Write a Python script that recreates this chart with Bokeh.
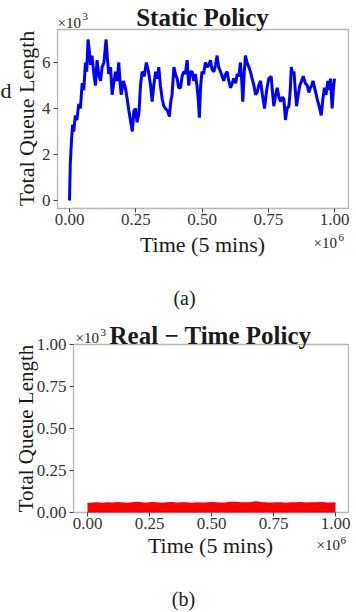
import math
from bokeh.plotting import figure
from bokeh.models import Range1d, FixedTicker, Label, LinearAxis, BoxAnnotation
from bokeh.embed import file_html
from bokeh.resources import INLINE

# ---------------- data ----------------
# (a) Static policy: time step -> total queue length
time_a = [0, 3000, 8000, 12000, 16000, 22000, 28000, 35000, 41000, 48000, 54000, 60000,
          65000, 70000, 75000, 79000, 85000, 92000, 98000, 104000, 110000, 117000, 123000,
          130000, 138000, 143000, 148000, 155000, 161000, 168000, 174000, 180000, 186000,
          191000, 195000, 203000, 211000, 218000, 224000, 230000, 237000, 243000, 249000,
          255000, 262000, 268000, 274000, 282000, 290000, 298000, 306000, 312000, 318000,
          325000, 331000, 337000, 343000, 350000, 356000, 362000, 370000, 377000, 382000,
          387000, 394000, 400000, 406000, 412000, 419000, 425000, 431000, 437000, 444000,
          450000, 456000, 463000, 469000, 475000, 481000, 486000, 490000, 495000, 500000,
          506000, 513000, 520000, 526000, 532000, 538000, 545000, 551000, 557000, 563000,
          570000, 576000, 582000, 589000, 595000, 601000, 608000, 614000, 620000, 627000,
          633000, 639000, 645000, 650000, 654000, 659000, 664000, 670000, 677000, 683000,
          689000, 696000, 702000, 708000, 714000, 721000, 728000, 736000, 744000, 752000,
          761000, 766000, 771000, 778000, 784000, 790000, 796000, 803000, 809000, 815000,
          821000, 828000, 833000, 837000, 842000, 847000, 852000, 857000, 863000, 869000,
          876000, 882000, 890000, 897000, 903000, 909000, 914000, 919000, 927000, 935000,
          942000, 950000, 956000, 962000, 968000, 975000, 980000, 985000, 991000, 996000,
          1000000]
queue_a = [0, 1600, 2700, 3300, 3000, 3700, 3500, 4200, 4000, 5100, 4800, 6000,
           5600, 7000, 6500, 5900, 6300, 5500, 5000, 6100, 5500, 5200, 5800,
           6000, 7000, 6200, 5500, 5800, 4600, 5200, 5600, 5200, 6000,
           5100, 4600, 5200, 4900, 4400, 3900, 3500, 3000, 3900, 4000,
           3400, 3800, 5000, 5600, 5400, 6000, 5600, 5000, 4300, 5000,
           5600, 5300, 5800, 5000, 4400, 4100, 4000, 3900, 3650, 4300,
           4600, 5800, 5500, 5300, 4900, 4900, 5400, 5600, 5500, 6100,
           5000, 5600, 5600, 5200, 5500, 5000, 4400, 3600, 5000, 5600,
           5500, 6000, 5800, 5900, 6100, 5700, 5600, 5900, 6300, 5800,
           5600, 5400, 5200, 5500, 5600, 5200, 4900, 5100, 5300, 5100,
           5500, 5400, 6000, 5200, 4300, 5500, 6300, 6000, 5800, 5600,
           5300, 5000, 4600, 4700, 5000, 5200, 4600, 4000, 4800, 5300,
           5400, 4700, 4100, 4600, 4900, 4500, 4300, 4500, 4400, 3500,
           4000, 4100, 4800, 5800, 5500, 5600, 4800, 4100, 4600, 5000,
           5200, 5400, 5100, 5000, 4700, 4900, 5000, 5200, 4800, 4400,
           4100, 3700, 4400, 4900, 4600, 5200, 4800, 5300, 4000, 4900,
           5300]

# (b) Real-time policy: time step -> total queue length
time_b = [i * 20000 for i in range(51)]
queue_b = [52, 55, 56, 54, 57, 55, 58, 56, 54, 57, 60, 56, 55, 58, 57, 54, 56,
           58, 55, 57, 56, 54, 57, 55, 56, 58, 57, 55, 56, 59, 60, 57, 56, 58,
           62, 58, 56, 55, 57, 56, 54, 57, 56, 58, 55, 56, 57, 58, 56, 55, 57]

x_ticks = [0, 250000, 500000, 750000, 1000000]
x_tick_labels = ["0.00", "0.25", "0.50", "0.75", "1.00"]
ya_ticks = [0, 2000, 4000, 6000]
ya_tick_labels = ["0", "2", "4", "6"]
yb_ticks = [0, 250, 500, 750, 1000]
yb_tick_labels = ["0.00", "0.25", "0.50", "0.75", "1.00"]

SERIF = "Liberation Serif"
TXT = "#1a1a1a"
TICK = "#333333"

# ---------------- layout helpers (page pixel -> data value) ----------------
def lin(p0, v0, p1, v1):
    def f(q):
        return v0 + (q - p0) * (v1 - v0) / (p1 - p0)
    return f

LEFT, TOP, RIGHT, BOTTOM = 0, 0, 356, 612      # canvas edges in page pixels
fx_a = lin(69, 0, 334, 1000000)
fy_a = lin(200, 0, 154, 2000)
fx_b = lin(87, 0, 335, 1000000)
fy_b = lin(512, 0, 344, 1000)

p = figure(width=RIGHT - LEFT, height=BOTTOM - TOP,
           x_range=Range1d(fx_a(LEFT), fx_a(RIGHT)),
           y_range=Range1d(fy_a(BOTTOM), fy_a(TOP)),
           x_axis_location=None, y_axis_location=None,
           output_backend="svg", toolbar_location=None, title=None,
           min_border=0, min_border_left=0, min_border_right=0,
           min_border_top=0, min_border_bottom=0)
p.extra_x_ranges = {"bx": Range1d(fx_b(LEFT), fx_b(RIGHT)), "px": Range1d(LEFT, RIGHT)}
p.extra_y_ranges = {"by": Range1d(fy_b(BOTTOM), fy_b(TOP)), "px": Range1d(BOTTOM, TOP)}
p.outline_line_color = None
p.background_fill_color = "white"
p.border_fill_color = "white"
for g in p.grid:
    g.visible = False


def style_axis(ax, ticks, labels):
    ax.ticker = FixedTicker(ticks=ticks)
    ax.major_label_overrides = dict(zip(ticks, labels))
    ax.axis_line_color = None
    ax.major_tick_line_color = "#444444"
    ax.major_tick_line_width = 1
    ax.major_tick_out = 4
    ax.major_tick_in = 0
    ax.minor_tick_line_color = None
    ax.major_label_text_font = SERIF
    ax.major_label_text_font_size = "17px"
    ax.major_label_text_color = TICK


# ---- chart (a) ----
ax_a = LinearAxis(fixed_location=fy_a(208), bounds=(fx_a(57), fx_a(348)))
style_axis(ax_a, x_ticks, x_tick_labels)
ax_a.major_label_standoff = 1
p.add_layout(ax_a, "below")
ay_a = LinearAxis(fixed_location=fx_a(57), bounds=(fy_a(208), fy_a(29)))
style_axis(ay_a, ya_ticks, ya_tick_labels)
ay_a.major_label_standoff = 3
p.add_layout(ay_a, "left")
p.add_layout(BoxAnnotation(left=fx_a(57), right=fx_a(348), bottom=fy_a(208), top=fy_a(29),
                           fill_alpha=0, line_color="#111111", line_width=1.3))
p.line(time_a, queue_a, line_color="#0000ff", line_width=3)

# ---- chart (b) ----
ax_b = LinearAxis(x_range_name="bx", y_range_name="by", fixed_location=fy_b(512),
                  bounds=(fx_b(73), fx_b(348)))
style_axis(ax_b, x_ticks, x_tick_labels)
ax_b.major_label_standoff = 1
p.add_layout(ax_b, "below")
ay_b = LinearAxis(x_range_name="bx", y_range_name="by", fixed_location=fx_b(73),
                  bounds=(0, 1000))
style_axis(ay_b, yb_ticks, yb_tick_labels)
ay_b.major_label_standoff = 3
p.add_layout(ay_b, "left")
p.varea(x=time_b, y1=[0] * len(time_b), y2=queue_b, fill_color="#ff0000",
        x_range_name="bx", y_range_name="by")
p.line(time_b, queue_b, line_color="#ff0000", line_width=1.5,
       x_range_name="bx", y_range_name="by")
p.add_layout(BoxAnnotation(left=fx_b(73), right=fx_b(348), bottom=0, top=1000,
                           x_range_name="bx", y_range_name="by",
                           fill_alpha=0, line_color="#111111", line_width=1.3))


def add_text(x, y, text, size, bold=False, angle=0.0, align="center", color=TXT):
    # y is the visual middle of the text, in page pixels
    p.add_layout(Label(x=x, y=y, text=text, text_font=SERIF, text_font_size=size,
                       text_font_style="bold" if bold else "normal",
                       text_align=align, text_baseline="middle", angle=angle,
                       text_color=color, x_range_name="px", y_range_name="px"))


# fragment of a neighbouring label at the left edge of the source image
add_text(0, 90, "d", "22px", align="left")

# texts of chart (a)  (positions in page pixels)
add_text(202, 16.5, "Static Policy", "25px", bold=True)
add_text(57, 22.5, "\u00d710", "15px", align="left")
add_text(82, 16, "3", "11px", align="left")
add_text(202, 243.5, "Time (5 mins)", "22px")
add_text(313, 242, "\u00d710", "15px", align="left")
add_text(338, 236.5, "6", "11px", align="left")
add_text(26, 118, "Total Queue Length", "22px", angle=math.pi / 2)
add_text(184, 297, "(a)", "20px")

# texts of chart (b)
add_text(210, 334.5, "Real \u2212 Time Policy", "25px", bold=True)
add_text(75, 337.5, "\u00d710", "15px", align="left")
add_text(100, 331.5, "3", "11px", align="left")
add_text(210, 545, "Time (5 mins)", "22px")
add_text(316, 544.5, "\u00d710", "15px", align="left")
add_text(340, 539.5, "6", "11px", align="left")
add_text(25, 428, "Total Queue Length", "21px", angle=math.pi / 2)
add_text(183, 598, "(b)", "20px")

open("out.html", "w").write(file_html(p, INLINE))
